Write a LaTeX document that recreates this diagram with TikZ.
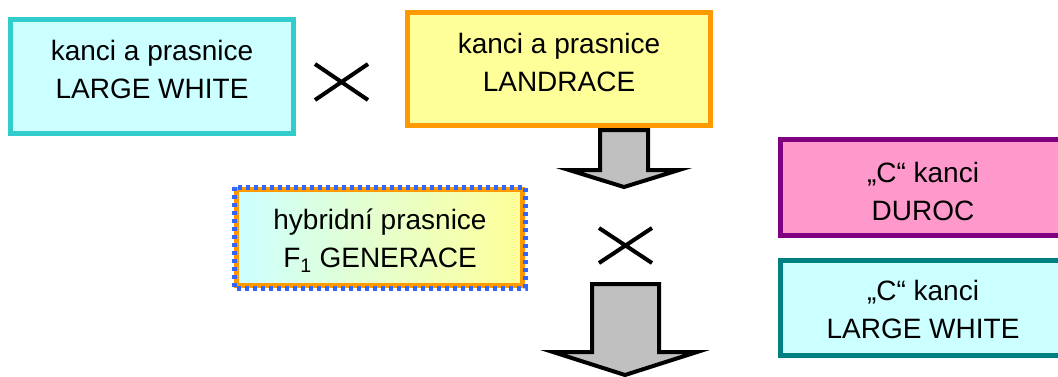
\documentclass[tikz,border=0pt]{standalone}
\usepackage{fontspec}
\setmainfont{Liberation Sans}
\definecolor{lwborder}{HTML}{33CCCC}
\definecolor{lwfill}{HTML}{CCFFFF}
\definecolor{ldborder}{HTML}{FF9900}
\definecolor{ldfill}{HTML}{FFFF99}
\definecolor{duborder}{HTML}{800080}
\definecolor{dufill}{HTML}{FF99CC}
\definecolor{lw2border}{HTML}{008080}
\definecolor{hyblue}{HTML}{3366FF}
\definecolor{arrowfill}{HTML}{C0C0C0}
\tikzset{
  box/.style={draw, line width=5pt, inner sep=0pt, rectangle},
  label text/.style={align=center, font=\fontsize{28}{38}\selectfont, inner sep=0pt},
  crossline/.style={line width=4pt},
  bigarrow/.style={draw=black, fill=arrowfill, line width=4pt, line join=miter}
}
\begin{document}
\begin{tikzpicture}[x=1pt,y=-1pt]
\useasboundingbox (0,0) rectangle (1058,376);
\clip (0,0) rectangle (1058,376);
% boxes
\node[box, draw=lwborder, fill=lwfill, minimum width=283pt, minimum height=114pt] (lw) at (152,76.5) {};
\node[box, draw=ldborder, fill=ldfill, minimum width=303pt, minimum height=113pt] (ld) at (559,69) {};
\node[box, draw=duborder, fill=dufill, minimum width=285pt, minimum height=96pt] (du) at (923,187.5) {};
\node[box, draw=lw2border, fill=lwfill, minimum width=285pt, minimum height=95pt] (lw2) at (923,308) {};
% hybrid box with gradient and two-colour dashed border
\node[rectangle, inner sep=0pt, minimum width=286pt, minimum height=96pt, left color=lwfill, right color=ldfill, draw=ldborder, line width=5pt] (hy) at (379.5,237.5) {};
\draw[hyblue, line width=5pt, dash pattern=on 4pt off 4pt] (hy.north west) rectangle (hy.south east);
% texts
\node[label text] (lwt) at (152,69) {kanci a prasnice\\LARGE WHITE};
\node[label text] (ldt) at (559,62) {kanci a prasnice\\LANDRACE};
\node[label text] (hyt) at (380,241) {hybridní prasnice\\F\textsubscript{1} GENERACE};
\node[label text] (dut) at (923,191) {„C“ kanci\\DUROC};
\node[label text] (lw2t) at (923,309) {„C“ kanci\\LARGE WHITE};
% crosses
\coordinate (c1a) at (315,64); \coordinate (c1b) at (368,100);
\coordinate (c1c) at (315,100); \coordinate (c1d) at (368,64);
\draw[crossline] (c1a) -- (c1b) (c1c) -- (c1d);
\coordinate (c2a) at (599,228); \coordinate (c2b) at (652,263);
\coordinate (c2c) at (599,263); \coordinate (c2d) at (652,228);
\draw[crossline] (c2a) -- (c2b) (c2c) -- (c2d);
% arrows
\draw[bigarrow] (600,130) -- (648,130) -- (648,170) -- (679,170) -- (624,187) -- (569,170) -- (600,170) -- cycle;
\draw[bigarrow] (592,284) -- (659,284) -- (659,352) -- (697,352) -- (625,375) -- (553,352) -- (592,352) -- cycle;
\end{tikzpicture}
\end{document}
